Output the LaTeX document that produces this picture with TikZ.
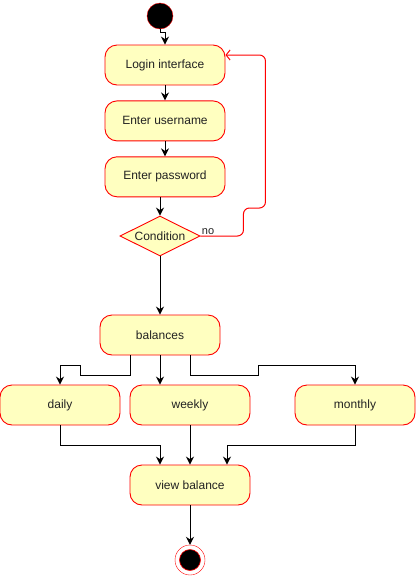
\documentclass[tikz,border=0pt]{standalone}
\usepackage{fontspec}
\setmainfont{Liberation Sans}
\usetikzlibrary{arrows.meta,positioning,shapes.geometric}
\definecolor{actfill}{HTML}{FFFFC0}
\definecolor{actline}{HTML}{FF0000}
\definecolor{ink}{HTML}{222222}
\tikzset{
  act/.style={rounded corners=12pt, draw=actline, fill=actfill, line width=.9pt,
    minimum width=120pt, minimum height=40pt, inner sep=0pt,
    font=\fontsize{12}{14}\selectfont, text=ink},
  cond/.style={diamond, aspect=2, draw=actline, fill=actfill, line width=.9pt,
    minimum width=80pt, minimum height=40pt, inner sep=0pt,
    font=\fontsize{12}{14}\selectfont, text=ink},
  startnode/.style={circle, draw=actline, fill=black, minimum size=26pt, inner sep=0pt},
  endnode/.style={circle, draw=actline, fill=white, minimum size=30pt, inner sep=0pt,
    path picture={\filldraw[fill=black, draw=actline, line width=.6pt]
      (path picture bounding box.center) circle (10.5pt);}},
  flow/.style={-{Stealth[length=8pt,width=8pt]}, draw=black, line width=1pt},
  back/.style={-{Straight Barb[length=4pt,width=10pt]}, draw=actline, line width=1pt,
    rounded corners=6pt},
  elabel/.style={font=\fontsize{11}{13}\selectfont, text=ink, inner sep=1pt}
}
\begin{document}
\begin{tikzpicture}[x=1pt,y=-1pt]
  \useasboundingbox (0,0) rectangle (416,576);

  \node[startnode] (start) at (160,16) {};
  \node[act] (login) at (165,65) {Login interface};
  \node[act, below=15pt of login] (user) {Enter username};
  \node[act, below=15pt of user] (pass) {Enter password};
  \node[cond] (cond) at (160,236) {Condition};
  \node[act] (balances) at (160,335) {balances};
  \node[act] (daily) at (60,405) {daily};
  \node[act] (weekly) at (190,405) {weekly};
  \node[act] (monthly) at (355,405) {monthly};
  \node[act] (view) at (190,485) {view balance};
  \node[endnode] (end) at (190,560) {};

  \draw[flow] (start.south) -- ++(0,3) -| (login.north);
  \draw[flow] (login) -- (user);
  \draw[flow] (user) -- (pass);
  \draw[flow] (pass.south -| cond.north) -- (cond.north);
  \draw[back] (cond.east) node[elabel, anchor=south west] {no}
    -- ++(43,0) -- ++(0,-28) -- ++(22,0) |- ([yshift=10pt]login.east);
  \draw[flow] (cond.south) -- (balances.north);

  \draw[flow] ([xshift=-30pt]balances.south) -- ++(0,20) -- ++(-50,0) -- ++(0,-10) -| (daily.north);
  \draw[flow] (balances.south) -- (balances.south |- weekly.north);
  \draw[flow] ([xshift=30pt]balances.south) -- ++(0,20) -- ++(68,0) -- ++(0,-10) -| (monthly.north);

  \draw[flow] (daily.south) -- ++(0,20) -| ([xshift=-30pt]view.north);
  \draw[flow] (weekly) -- (view);
  \draw[flow] (monthly.south) -- ++(0,20) -| ([xshift=37pt]view.north);
  \draw[flow] (view) -- (end);
\end{tikzpicture}
\end{document}
